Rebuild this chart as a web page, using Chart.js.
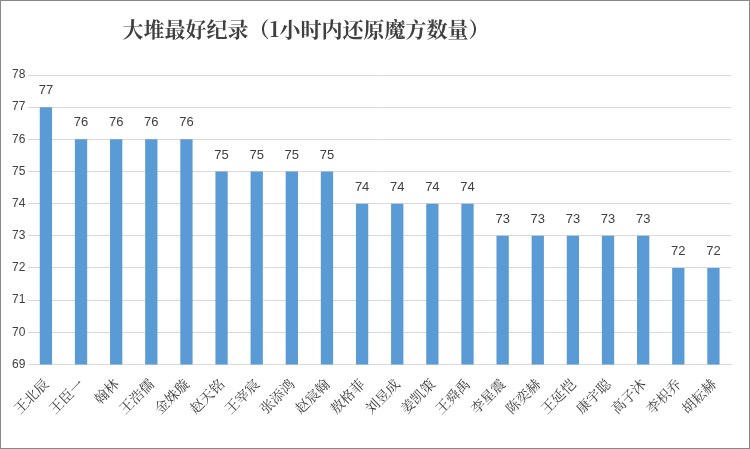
<!DOCTYPE html>
<html>
<head>
<meta charset="utf-8">
<script src="https://cdn.jsdelivr.net/npm/chart.js@4"></script>
<style>
  body { margin: 0; background: #fff; }
  #wrap { position: absolute; left: 0; top: 0; width: 748px; height: 447px; border: 1px solid #888; }
</style>
</head>
<body>
<div id="wrap"><canvas id="myChart" width="748" height="447"></canvas></div>
<script>
  let chartTitle = '大堆最好纪录（1小时内还原魔方数量）';
  let names = ['王北辰','王臣一','翰林','王浩儒','金姝璇','赵天铭','王宰宸','张添鸿','赵宸翰','敖格菲',
    '刘昱成','姜凯策','王舜禹','李星震','陈奕赫','王延恺','康宇聪','高子沐','李枳乔','胡耘赫'];
  let scores = [77,76,76,76,76,75,75,75,75,74,74,74,74,73,73,73,73,73,72,72];

  // value above each bar + title placed left of centre like the original
  let extras = {
    id: 'extras',
    afterDatasetsDraw(chart) {
      let ctx = chart.ctx;
      ctx.save();
      ctx.font = '13px "Liberation Sans", sans-serif';
      ctx.fillStyle = '#404040';
      ctx.textAlign = 'center';
      ctx.textBaseline = 'bottom';
      chart.getDatasetMeta(0).data.forEach((bar, i) => {
        ctx.fillText(scores[i], bar.x, bar.y - 10);
      });
      ctx.font = 'bold 21px "Noto Serif CJK SC", "Noto Sans CJK SC", serif';
      ctx.textBaseline = 'middle';
      ctx.fillText(chartTitle, 305, 28);
      ctx.restore();
    }
  };

  let ctx = document.getElementById('myChart').getContext('2d');
  let chart = new Chart(ctx, {
    type: 'bar',
    data: {
      labels: names,
      datasets: [{
        data: scores,
        backgroundColor: '#5B9BD5',
        barPercentage: 0.35,
        categoryPercentage: 1
      }]
    },
    plugins: [extras],
    options: {
      responsive: false,
      animation: false,
      layout: { padding: { left: 8, right: 18, top: 74, bottom: 28 } },
      plugins: {
        legend: { display: false },
        tooltip: { enabled: false },
        title: { display: false }
      },
      scales: {
        y: {
          min: 69, max: 78,
          ticks: { stepSize: 1, color: '#404040', font: { size: 12 } },
          grid: { color: '#d9d9d9', drawTicks: false },
          border: { display: false }
        },
        x: {
          ticks: { color: '#404040', maxRotation: 45, minRotation: 45,
            font: { family: '"Noto Serif CJK SC", "Noto Sans CJK SC", serif', size: 14 } },
          grid: { display: false },
          border: { color: '#d9d9d9' }
        }
      }
    }
  });
</script>
</body>
</html>
